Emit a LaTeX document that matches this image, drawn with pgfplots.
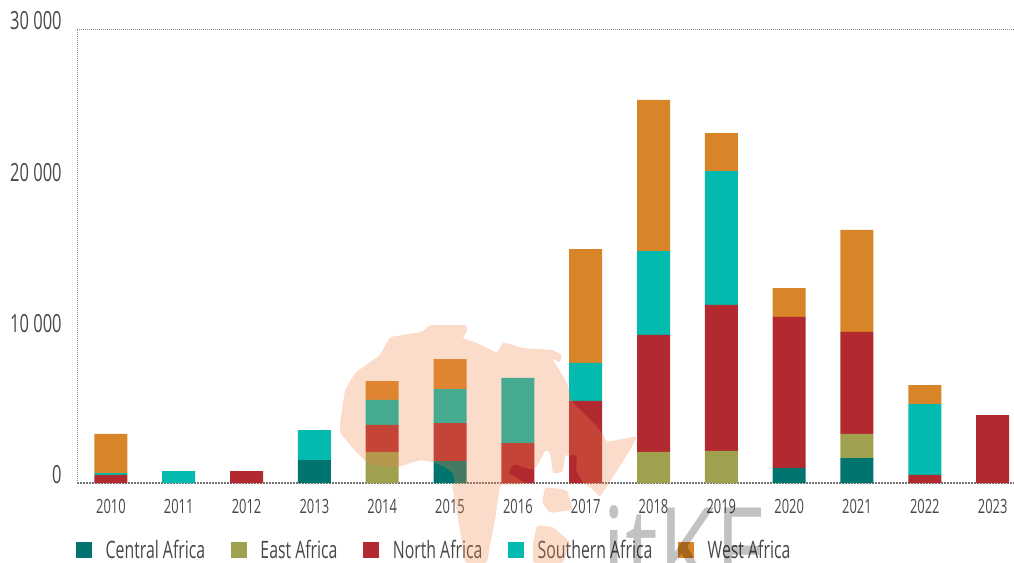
\documentclass[border=0pt]{standalone}
\usepackage{fontspec}
\setmainfont[FakeStretch=0.66]{Open Sans}
\newfontfamily\logofont[FakeStretch=0.74]{Open Sans}
\usepackage{pgfplots}
\usepackage{pgfplotstable}
\pgfplotsset{compat=1.18}

\definecolor{central}{HTML}{007570}
\definecolor{east}{HTML}{9FA14F}
\definecolor{north}{HTML}{B22A30}
\definecolor{south}{HTML}{02BAAD}
\definecolor{west}{HTML}{D88428}
\definecolor{txt}{HTML}{484848}
\definecolor{wm}{RGB}{241,133,73}

% year index, central, east, north, southern, west
\pgfplotstableread{
x   central east  north south west
0   0       0     530   130   2580
1   0       0     0     790   0
2   0       0     790   0     0
3   1520    0     0     1980  0
4   0       2050  1785  1650  1255
5   1450    0     2510  2250  1980
6   0       0     2640  4300  0
7   0       0     5420  2510  7530
8   0       2050  7730  5550  9980
9   0       2115  9650  8850  2510
10  990     0     9980  0     1915
11  1650    1590  6740  0     6740
12  0       0     530   4690  1255
13  0       0     4490  0     0
}\flows

\begin{document}
\begin{tikzpicture}[px/.style={x=0.75pt,y=-0.75pt}]
\path[px,use as bounding box] (0,0) rectangle (1014,563);
\begin{axis}[
    at={(57.75pt,-362.25pt)}, anchor=south west,
    scale only axis, width=702.75pt, height=340.5pt,
    ybar stacked, bar width=24.75pt,
    clip=false,
    xmin=-0.5, xmax=13.315, ymin=0, ymax=30000,
    xtick={0,...,13},
    xticklabels={2010,2011,2012,2013,2014,2015,2016,2017,2018,2019,2020,2021,2022,2023},
    ytick={0,10000,20000,30000},
    yticklabels={0,10 000,20 000,30 000},
    scaled y ticks=false,
    major tick length=0pt,
    /pgf/number format/assume math mode=true,
    axis x line*=bottom, axis y line*=left,
    x axis line style={-, color=black!55, line width=0.9pt, dash pattern=on 1.5pt off 0.75pt},
    y axis line style={-, color=black!45, line width=0.7pt, dash pattern=on 0.75pt off 0.75pt},
    xticklabel style={font=\fontsize{14.7}{16}\selectfont, text=txt, anchor=center, yshift=-17.5pt},
    yticklabel style={font=\fontsize{18.75}{20}\selectfont, text=txt, anchor=east, xshift=-8pt, yshift=6pt},
    legend columns=-1,
    legend style={draw=none, fill=none, at={(-0.001,-0.1485)}, anchor=west, inner sep=0pt, outer sep=0pt,
        font=\fontsize{18}{20}\selectfont, text=txt,
        /tikz/every odd column/.append style={column sep=7.25pt},
        /tikz/every even column/.append style={column sep=16.2pt}},
    legend cell align=left,
    every axis legend/.append style={nodes={inner sep=3pt}},
    legend image code/.code={\fill[#1] (0pt,-6pt) rectangle (12pt,6pt);},
]
\addplot[fill=central, draw=none] table[x=x,y=central] {\flows};
\addplot[fill=east, draw=none] table[x=x,y=east] {\flows};
\addplot[fill=north, draw=none] table[x=x,y=north] {\flows};
\addplot[fill=south, draw=none] table[x=x,y=south] {\flows};
\addplot[fill=west, draw=none] table[x=x,y=west] {\flows};
\legend{Central Africa,East Africa,North Africa,Southern Africa,West Africa}
\draw[color=black!45, line width=0.7pt, dash pattern=on 0.75pt off 0.75pt]
    (rel axis cs:0,1) -- (rel axis cs:1,1);
\end{axis}
% watermark: map of Africa and logo, laid over the chart
\begin{scope}[px]
\fill[wm, opacity=0.286, rounded corners=2pt]
    (340,423) -- (345,390) -- (355,373) -- (380,355) -- (390,337) -- (422,332)
    -- (430,325) -- (467,325) -- (467,332) -- (462,338) -- (477,343) -- (497,353)
    -- (503,342) -- (523,348) -- (553,350) -- (562,355) -- (560,363) -- (552,358)
    -- (567,383) -- (573,403) -- (600,430) -- (607,442) -- (637,436) -- (630,450)
    -- (613,477) -- (600,497) -- (590,487) -- (583,483) -- (576,470) -- (577,455)
    -- (565,455) -- (563,472) -- (553,474) -- (550,452) -- (545,450) -- (538,465)
    -- (533,470) -- (513,464) -- (508,473) -- (527,484) -- (500,485) -- (495,520)
    -- (490,545) -- (487,563) -- (465,563) -- (460,530) -- (452,485) -- (455,483)
    -- (453,473) -- (445,467) -- (433,462) -- (420,460) -- (398,467) -- (370,465)
    -- (357,453) -- (340,433) -- cycle;
\fill[wm, opacity=0.286, rounded corners=2pt]
    (545,487) -- (567,490) -- (573,510) -- (550,513) -- (542,503) -- cycle;
\fill[wm, opacity=0.286, rounded corners=2pt]
    (537,525) -- (553,527) -- (570,542) -- (563,563) -- (533,563) -- (533,543) -- cycle;
\node[anchor=base west, inner sep=0pt, opacity=0.24, font=\logofont\fontsize{94}{94}\selectfont]
    at (602,597) {itKE};
\end{scope}
\end{tikzpicture}
\end{document}
